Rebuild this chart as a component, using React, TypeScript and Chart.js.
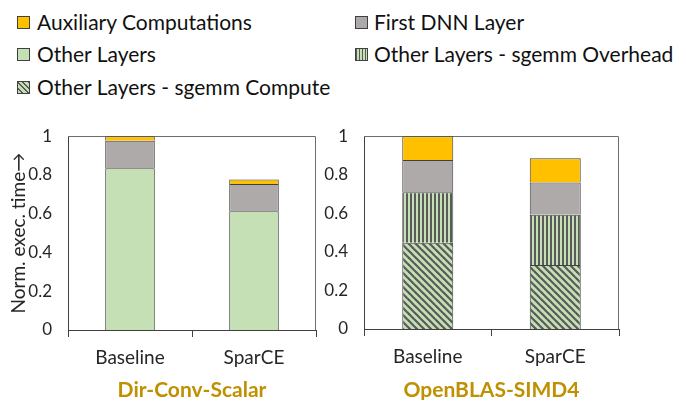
import React, { useEffect, useRef } from "react";
import { Chart, registerables } from "chart.js";

Chart.register(...registerables);

// ---------- data ----------
const categories = ["Baseline", "SparCE"];
const yTicks = [0, 0.2, 0.4, 0.6, 0.8, 1];
const scalarTitle = "Dir-Conv-Scalar";
const blasTitle = "OpenBLAS-SIMD4";
const yAxisTitle = "Norm. exec. time\u2192";

// Dir-Conv-Scalar (bottom -> top)
const scalarOtherLayers = [0.835, 0.613];
const scalarFirstLayer = [0.141, 0.14];
const scalarAux = [0.024, 0.023];

// OpenBLAS-SIMD4 (bottom -> top)
const blasSgemmCompute = [0.447, 0.332];
const blasSgemmOverhead = [0.262, 0.26];
const blasFirstLayer = [0.168, 0.168];
const blasAux = [0.123, 0.126];

const labelAux = "Auxiliary Computations";
const labelFirst = "First DNN Layer";
const labelOther = "Other Layers";
const labelOverhead = "Other Layers - sgemm Overhead";
const labelCompute = "Other Layers - sgemm Compute";

// ---------- styles ----------
const ORANGE = "#FFC000";
const GRAY = "#AEAAAA";
const GREEN = "#C5E0B4";
const STRIPE = "#5A5A5A";
const EDGE = "#404040";
const TITLE_COLOR = "#BF9000";
const TEXT = "#262626";
const FONT = "Lato, 'Open Sans', sans-serif";

function makeDiagPattern(): CanvasPattern | string {
  const s = 7;
  const c = document.createElement("canvas");
  c.width = s;
  c.height = s;
  const x = c.getContext("2d");
  if (!x) return GREEN;
  x.fillStyle = GREEN;
  x.fillRect(0, 0, s, s);
  x.strokeStyle = STRIPE;
  x.lineWidth = 2.2;
  for (let k = -1; k <= 1; k++) {
    x.beginPath();
    x.moveTo(k * s - 1, -1);
    x.lineTo(k * s + s + 1, s + 1);
    x.stroke();
  }
  const p = x.createPattern(c, "repeat");
  return p || GREEN;
}

function makeVertPattern(): CanvasPattern | string {
  const c = document.createElement("canvas");
  c.width = 4;
  c.height = 4;
  const x = c.getContext("2d");
  if (!x) return GREEN;
  x.fillStyle = GREEN;
  x.fillRect(0, 0, 4, 4);
  x.fillStyle = STRIPE;
  x.fillRect(0, 0, 2, 4);
  const p = x.createPattern(c, "repeat");
  return p || GREEN;
}

const boxPlugin = {
  id: "plotBox",
  beforeDatasetsDraw(chart: any) {
    const { ctx, chartArea } = chart;
    const { left, right, top, bottom } = chartArea;
    ctx.save();
    ctx.strokeStyle = "#6e6e6e";
    ctx.lineWidth = 1;
    const t = Math.round(top) + 0.5;
    const r = Math.round(right) - 0.5;
    ctx.beginPath();
    ctx.moveTo(left, t);
    ctx.lineTo(r, t);
    ctx.lineTo(r, bottom);
    ctx.stroke();
    ctx.restore();
  },
};

interface PanelProps {
  datasets: any[];
  title: string;
  showYTitle: boolean;
  yWidth: number;
  padRight: number;
  padTop: number;
  xHeight: number;
  width: number;
  height: number;
}

function Panel(props: PanelProps) {
  const ref = useRef<HTMLCanvasElement | null>(null);
  useEffect(() => {
    if (!ref.current) return;
    const chart = new Chart(ref.current, {
      type: "bar",
      data: { labels: categories, datasets: props.datasets },
      plugins: [boxPlugin],
      options: {
        animation: false,
        responsive: false,
        devicePixelRatio: 1,
        layout: { padding: { top: props.padTop, right: props.padRight, left: 0, bottom: 0 } },
        plugins: { legend: { display: false }, tooltip: { enabled: false } },
        datasets: { bar: { barPercentage: 0.4, categoryPercentage: 1 } },
        scales: {
          x: {
            stacked: true,
            offset: true,
            grid: {
              display: true,
              offset: true,
              drawOnChartArea: false,
              drawTicks: true,
              tickLength: 7,
              color: EDGE,
            },
            border: { display: true, color: EDGE, width: 1 },
            ticks: {
              color: TEXT,
              font: { family: FONT, size: 19 },
              padding: 9,
              maxRotation: 0,
            },
            title: {
              display: true,
              text: props.title,
              color: TITLE_COLOR,
              font: { family: FONT, size: 21, weight: "bold", lineHeight: 1 },
              padding: { top: 0, bottom: -1 },
            },
            afterFit: (s: any) => {
              s.height = props.xHeight;
            },
          },
          y: {
            stacked: true,
            min: 0,
            max: 1,
            grid: { display: false, drawTicks: false },
            border: { display: true, color: EDGE, width: 1 },
            afterBuildTicks: (s: any) => {
              s.ticks = yTicks.map((v) => ({ value: v }));
            },
            ticks: {
              color: TEXT,
              font: { family: FONT, size: 17 },
              padding: 16,
              callback: (v: any) => String(v),
            },
            title: {
              display: props.showYTitle,
              text: yAxisTitle,
              color: TEXT,
              font: { family: FONT, size: 19, lineHeight: 1.2 },
              padding: { top: 7, bottom: 0 },
            },
            afterFit: (s: any) => {
              s.width = props.yWidth;
            },
          },
        },
      } as any,
    });
    return () => chart.destroy();
  }, []);
  return (
    <canvas
      ref={ref}
      width={props.width}
      height={props.height}
      style={{ width: props.width, height: props.height, display: "block" }}
    />
  );
}

function LegendItem(p: { x: number; tx: number; y: number; bg: string; label: string }) {
  return (
    <>
      <div
        style={{
          position: "absolute",
          left: p.x,
          top: p.y - 6.5,
          width: 13,
          height: 13,
          boxSizing: "border-box",
          border: `1px solid ${EDGE}`,
          background: p.bg,
        }}
      />
      <div
        style={{
          position: "absolute",
          left: p.tx,
          top: p.y - 14,
          height: 28,
          lineHeight: "28px",
          fontFamily: FONT,
          fontSize: 21,
          color: "#111",
          whiteSpace: "nowrap",
        }}
      >
        {p.label}
      </div>
    </>
  );
}

export default function App() {
  const diag = makeDiagPattern();
  const vert = makeVertPattern();
  const common = { borderColor: EDGE, borderWidth: 1 };
  const scalarSets = [
    { label: labelOther, data: scalarOtherLayers, backgroundColor: GREEN, ...common },
    { label: labelFirst, data: scalarFirstLayer, backgroundColor: GRAY, ...common },
    { label: labelAux, data: scalarAux, backgroundColor: ORANGE, ...common },
  ];
  const blasSets = [
    { label: labelCompute, data: blasSgemmCompute, backgroundColor: diag, ...common },
    { label: labelOverhead, data: blasSgemmOverhead, backgroundColor: vert, ...common },
    { label: labelFirst, data: blasFirstLayer, backgroundColor: GRAY, ...common },
    { label: labelAux, data: blasAux, backgroundColor: ORANGE, ...common },
  ];
  const diagCss = `repeating-linear-gradient(45deg, ${GREEN} 0 2.5px, ${STRIPE} 2.5px 4px)`;
  const vertCss = `repeating-linear-gradient(90deg, ${STRIPE} 0 1.5px, ${GREEN} 1.5px 3px)`;
  return (
    <div
      style={{
        position: "fixed",
        left: 0,
        top: 0,
        width: 678,
        height: 400,
        background: "#fff",
        overflow: "hidden",
      }}
    >
      <LegendItem x={17} tx={37} y={22} bg={ORANGE} label={labelAux} />
      <LegendItem x={355} tx={374} y={22} bg={GRAY} label={labelFirst} />
      <LegendItem x={17} tx={37} y={54} bg={GREEN} label={labelOther} />
      <LegendItem x={355} tx={374} y={54} bg={vertCss} label={labelOverhead} />
      <LegendItem x={17} tx={37} y={87} bg={diagCss} label={labelCompute} />
      <div style={{ position: "absolute", left: 0, top: 110 }}>
        <Panel
          datasets={scalarSets}
          title={scalarTitle}
          showYTitle={true}
          yWidth={68}
          padRight={14}
          padTop={24}
          xHeight={70}
          width={330}
          height={290}
        />
      </div>
      <div style={{ position: "absolute", left: 310, top: 110 }}>
        <Panel
          datasets={blasSets}
          title={blasTitle}
          showYTitle={false}
          yWidth={54}
          padRight={59}
          padTop={23}
          xHeight={71}
          width={368}
          height={290}
        />
      </div>
    </div>
  );
}
